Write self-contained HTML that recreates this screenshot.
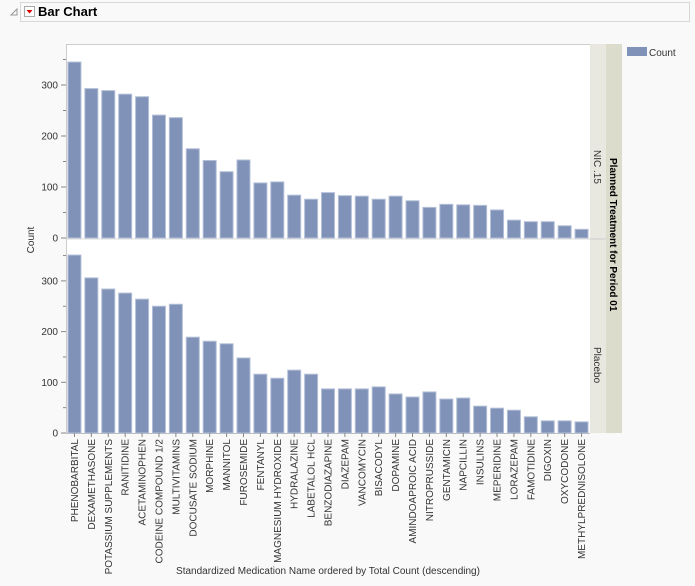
<!DOCTYPE html>
<html><head><meta charset="utf-8"><style>
body{margin:0;background:#f9f9f9;font-family:"Liberation Sans",sans-serif;}
</style></head><body>
<svg width="695" height="581" xmlns="http://www.w3.org/2000/svg" font-family="Liberation Sans, sans-serif">
<rect width="695" height="581" fill="#f9f9f9"/>
<rect x="20.5" y="2.5" width="669" height="19" fill="#f9f9f9" stroke="#d8d8d8"/>
<path d="M11 15 L17 9 L17 15 Z" fill="none" stroke="#999" stroke-width="1"/>
<rect x="24.5" y="6.5" width="10" height="10" fill="#fff" stroke="#aaa"/>
<path d="M26.5 10 L32.5 10 L29.5 13.5 Z" fill="#d00"/>
<text x="38" y="16" font-size="13" font-weight="bold">Bar Chart</text>
<rect x="66" y="44" width="524" height="389" fill="#fff"/>
<line x1="66" y1="239" x2="590" y2="239" stroke="#ddd"/>
<line x1="66.5" y1="44" x2="66.5" y2="433" stroke="#ccc"/>
<line x1="66" y1="44.5" x2="590" y2="44.5" stroke="#ccc"/>
<line x1="66" y1="433.5" x2="590" y2="433.5" stroke="#bbb"/>
<rect x="590" y="44" width="16" height="389" fill="#e8e8e0"/>
<rect x="606" y="44" width="16" height="389" fill="#dcdccc"/>
<line x1="590" y1="239" x2="606" y2="239" stroke="#ccc"/>
<text transform="translate(594,150) rotate(90)" font-size="10" fill="#333">NIC .15</text>
<text transform="translate(594,347) rotate(90)" font-size="10" fill="#333">Placebo</text>
<text transform="translate(610,158) rotate(90)" font-size="10" font-weight="bold">Planned Treatment for Period 01</text>
<rect x="627" y="47" width="20" height="9" fill="#8092b8"/>
<text x="649" y="56" font-size="10" fill="#333">Count</text>
<text transform="translate(34,240) rotate(-90)" font-size="10" text-anchor="middle" fill="#333">Count</text>
<g font-size="10" fill="#333" text-anchor="end" id="yt"></g>
<g id="bars"></g>
<text x="328" y="574" font-size="10" text-anchor="middle" fill="#333">Standardized Medication Name ordered by Total Count (descending)</text>
<script>
var names=["PHENOBARBITAL","DEXAMETHASONE","POTASSIUM SUPPLEMENTS","RANITIDINE","ACETAMINOPHEN","CODEINE COMPOUND 1/2","MULTIVITAMINS","DOCUSATE SODIUM","MORPHINE","MANNITOL","FUROSEMIDE","FENTANYL","MAGNESIUM HYDROXIDE","HYDRALAZINE","LABETALOL HCL","BENZODIAZAPINE","DIAZEPAM","VANCOMYCIN","BISACODYL","DOPAMINE","AMINDOAPROIC ACID","NITROPRUSSIDE","GENTAMICIN","NAPCILLIN","INSULINS","MEPERIDINE","LORAZEPAM","FAMOTIDINE","DIGOXIN","OXYCODONE","METHYLPREDNISOLONE"];
var topv=[345,293,289,282,277,241,236,175,152,130,153,108,110,84,76,89,83,82,76,82,73,60,66,65,64,55,35,32,32,24,17];
var botv=[351,306,284,276,264,250,254,189,181,176,148,116,108,124,116,87,87,87,91,77,71,81,67,69,53,49,45,32,24,24,22];
var ns="http://www.w3.org/2000/svg",g=document.getElementById("bars"),yt=document.getElementById("yt");
function el(t,a,p,txt){var e=document.createElementNS(ns,t);for(var k in a)e.setAttribute(k,a[k]);if(txt)e.textContent=txt;p.appendChild(e);return e;}
var w=524/31;
for(var i=0;i<31;i++){var cx=66+w*(i+0.5);
 var h=topv[i]*0.51;el("rect",{x:cx-6.5,y:238-h,width:13,height:h,fill:"#8092b8",stroke:"#b4c0d8","stroke-width":1},g);
 h=botv[i]*0.507;el("rect",{x:cx-6.5,y:433-h,width:13,height:h,fill:"#8092b8",stroke:"#b4c0d8","stroke-width":1},g);
 el("line",{x1:cx,y1:433,x2:cx,y2:437,stroke:"#888"},g);
 el("text",{transform:"translate("+(cx+3.5)+",439) rotate(-90)","font-size":"10",fill:"#333","text-anchor":"end"},g,names[i]);
}
for(var v=0;v<=350;v+=50){
 var y1=238-v*0.51,y2=433-v*0.507;
 var L=(v%100==0)?5:3;
 el("line",{x1:66-L,y1:y1,x2:66,y2:y1,stroke:"#888"},yt);
 el("line",{x1:66-L,y1:y2,x2:66,y2:y2,stroke:"#888"},yt);
 if(v%100==0){el("text",{x:58,y:y1+3.5},yt,""+v);el("text",{x:58,y:y2+3.5},yt,""+v);}
}
</script>
</svg>
</body></html>
